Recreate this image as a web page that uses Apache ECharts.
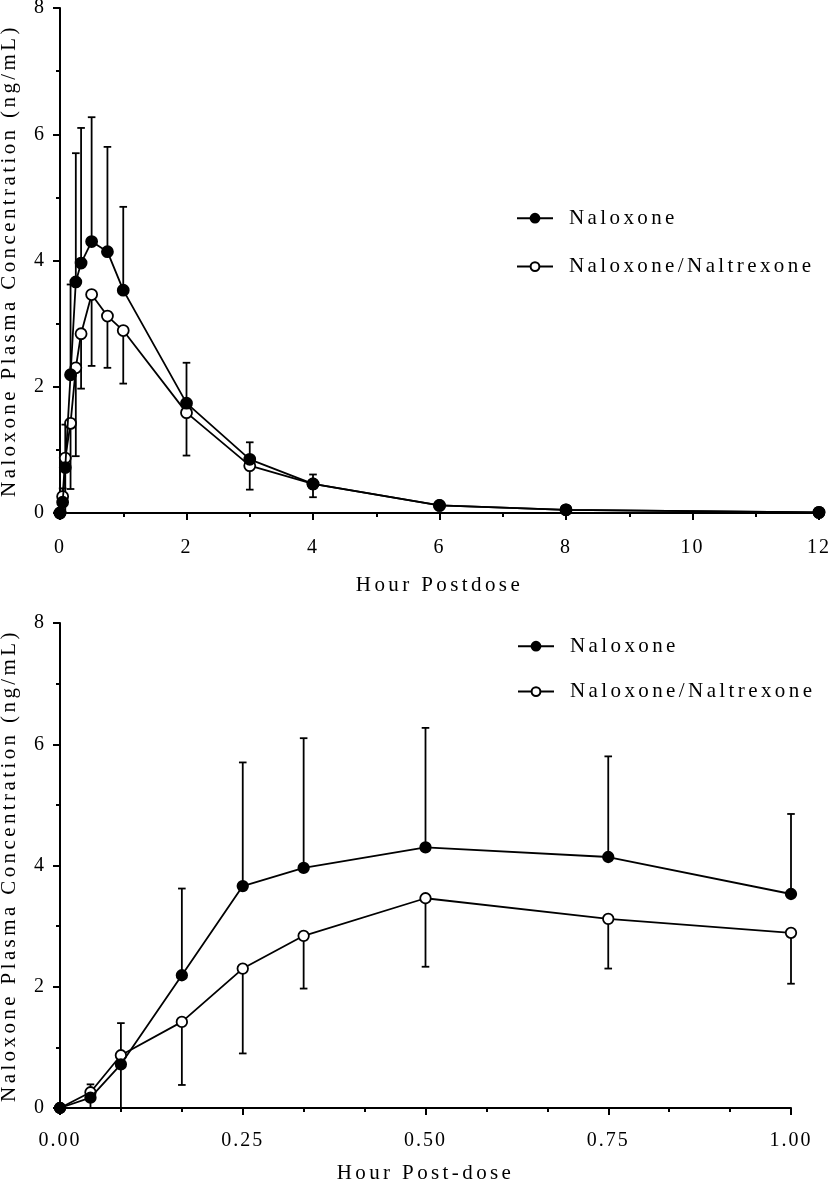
<!DOCTYPE html>
<html>
<head>
<meta charset="utf-8">
<script src="https://cdn.jsdelivr.net/npm/echarts@6/dist/echarts.min.js"></script>
<style>
html,body{margin:0;padding:0;background:#ffffff;}
#chart{width:829px;height:1182px;}
</style>
</head>
<body>
<div id="chart"></div>
<script>
// ---------------- data ----------------
const seriesNames = ['Naloxone', 'Naloxone/Naltrexone'];
const timeHours = [0, 0.0417, 0.0833, 0.1667, 0.25, 0.3333, 0.5, 0.75, 1, 2, 3, 4, 6, 8, 12];
const naloxoneMean = [0, 0.17, 0.72, 2.19, 3.66, 3.96, 4.30, 4.14, 3.53, 1.74, 0.85, 0.46, 0.12, 0.05, 0.01];
const comboMean = [0, 0.26, 0.87, 1.42, 2.30, 2.84, 3.46, 3.12, 2.89, 1.59, 0.75, 0.46, 0.12, 0.05, 0.01];
// end points of the error bars (Naloxone drawn upward, Naloxone/Naltrexone downward)
const naloxoneErrTop = [null, 0.39, 1.40, 3.62, 5.70, 6.10, 6.27, 5.80, 4.85, 2.38, 1.12, 0.61, null, null, null];
const comboErrBottom = [null, 0, 0, 0.38, 0.90, 1.97, 2.33, 2.30, 2.05, 0.91, 0.37, 0.25, null, null, null];
const xTitles = ['Hour Postdose', 'Hour Post-dose'];
const yTitle = 'Naloxone Plasma Concentration (ng/mL)';

// ---------------- letter-spaced serif text like the reference ----------------
(function () {
  const proto = CanvasRenderingContext2D.prototype;
  const d = Object.getOwnPropertyDescriptor(proto, 'font');
  if (!d || !('letterSpacing' in proto)) return;
  Object.defineProperty(proto, 'font', {
    configurable: true,
    get() { return d.get.call(this); },
    set(v) {
      d.set.call(this, v);
      const m = /(\d+(?:\.\d+)?)px/.exec(v);
      const s = m ? parseFloat(m[1]) : 12;
      this.letterSpacing = s >= 21 ? '3.4px' : (s >= 20 ? '2px' : '0px');
    }
  });
})();

const FONT = '"Liberation Serif", "DejaVu Serif", serif';

function pairs(ys, maxT) {
  const out = [];
  timeHours.forEach((t, i) => { if (t <= maxT && ys[i] != null) out.push([t, ys[i]]); });
  return out;
}
function errData(means, ends, maxT) {
  const out = [];
  timeHours.forEach((t, i) => { if (t <= maxT && ends[i] != null) out.push([t, means[i], ends[i]]); });
  return out;
}
function errRender(params, api) {
  const x = api.value(0);
  const p0 = api.coord([x, api.value(1)]);
  const p1 = api.coord([x, api.value(2)]);
  const cap = 3.8;
  const st = { stroke: '#000', lineWidth: 1.8 };
  return {
    type: 'group',
    children: [
      { type: 'line', shape: { x1: p0[0], y1: p0[1], x2: p1[0], y2: p1[1] }, style: st },
      { type: 'line', shape: { x1: p1[0] - cap, y1: p1[1], x2: p1[0] + cap, y2: p1[1] }, style: st }
    ]
  };
}

const axisLineStyle = { show: true, lineStyle: { color: '#000', width: 2 } };
function xAxisCfg(gridIndex, max, interval, minorSplit, name, labelMargin, nameGap, fmt) {
  return {
    type: 'value', gridIndex, min: 0, max, interval,
    axisLine: axisLineStyle,
    axisTick: { show: true, length: 7, lineStyle: { color: '#000', width: 2 } },
    minorTick: { show: true, splitNumber: minorSplit, length: 4, lineStyle: { color: '#000', width: 2 } },
    splitLine: { show: false }, minorSplitLine: { show: false },
    axisLabel: { color: '#000', fontSize: 20, fontFamily: FONT, margin: labelMargin, formatter: fmt },
    name, nameLocation: 'middle', nameGap,
    nameTextStyle: { color: '#000', fontSize: 21, fontFamily: FONT }
  };
}
function yAxisCfg(gridIndex) {
  return {
    type: 'value', gridIndex, min: 0, max: 8, interval: 2,
    axisLine: axisLineStyle,
    axisTick: { show: true, length: 7, lineStyle: { color: '#000', width: 2 } },
    minorTick: { show: true, splitNumber: 2, length: 4, lineStyle: { color: '#000', width: 2 } },
    splitLine: { show: false }, minorSplitLine: { show: false },
    axisLabel: { color: '#000', fontSize: 20, fontFamily: FONT, margin: 14 },
    name: yTitle, nameLocation: 'middle', nameRotate: 90, nameGap: 38,
    nameTextStyle: { color: '#000', fontSize: 21, fontFamily: FONT }
  };
}
function lineSeries(name, idx, ys, maxT, filled, size, z) {
  return {
    type: 'line', name, xAxisIndex: idx, yAxisIndex: idx,
    data: pairs(ys, maxT), symbol: 'circle', symbolSize: size, showSymbol: true,
    lineStyle: { color: '#000', width: 1.8 },
    itemStyle: { color: filled ? '#000' : '#fff', borderColor: '#000', borderWidth: 1.8 },
    z, animation: false, clip: true
  };
}
function errSeries(idx, means, ends, maxT) {
  return {
    type: 'custom', xAxisIndex: idx, yAxisIndex: idx,
    data: errData(means, ends, maxT), renderItem: errRender,
    encode: { x: 0, y: [1, 2] }, z: 1, animation: false, silent: true
  };
}
function legendCfg(left, top, gap) {
  return {
    data: seriesNames, orient: 'vertical', left, top, itemGap: gap,
    itemWidth: 36, itemHeight: 11, selectedMode: false,
    textStyle: { color: '#000', fontSize: 21, fontFamily: FONT, lineHeight: 20, padding: [0, 0, 0, 11] }
  };
}

const chart = echarts.init(document.getElementById('chart'), null, { renderer: 'canvas' });
chart.setOption({
  animation: false,
  backgroundColor: '#fff',
  grid: [
    { left: 60, top: 8, width: 759, height: 505, outerBoundsMode: 'none', containLabel: false },
    { left: 60, top: 623, width: 731, height: 485, outerBoundsMode: 'none', containLabel: false }
  ],
  legend: [legendCfg(511, 201, 24), legendCfg(512, 629, 21)],
  xAxis: [
    xAxisCfg(0, 12, 2, 2, xTitles[0], 24, 60, v => String(v)),
    xAxisCfg(1, 1, 0.25, 3, xTitles[1], 22, 53, v => v.toFixed(2))
  ],
  yAxis: [yAxisCfg(0), yAxisCfg(1)],
  series: [
    errSeries(0, naloxoneMean, naloxoneErrTop, 12),
    errSeries(0, comboMean, comboErrBottom, 12),
    lineSeries(seriesNames[1], 0, comboMean, 12, false, 11, 2),
    lineSeries(seriesNames[0], 0, naloxoneMean, 12, true, 11, 3),
    errSeries(1, naloxoneMean, naloxoneErrTop, 1),
    errSeries(1, comboMean, comboErrBottom, 1),
    lineSeries(seriesNames[1], 1, comboMean, 1, false, 10.5, 2),
    lineSeries(seriesNames[0], 1, naloxoneMean, 1, true, 10.5, 3)
  ]
});
</script>
</body>
</html>
